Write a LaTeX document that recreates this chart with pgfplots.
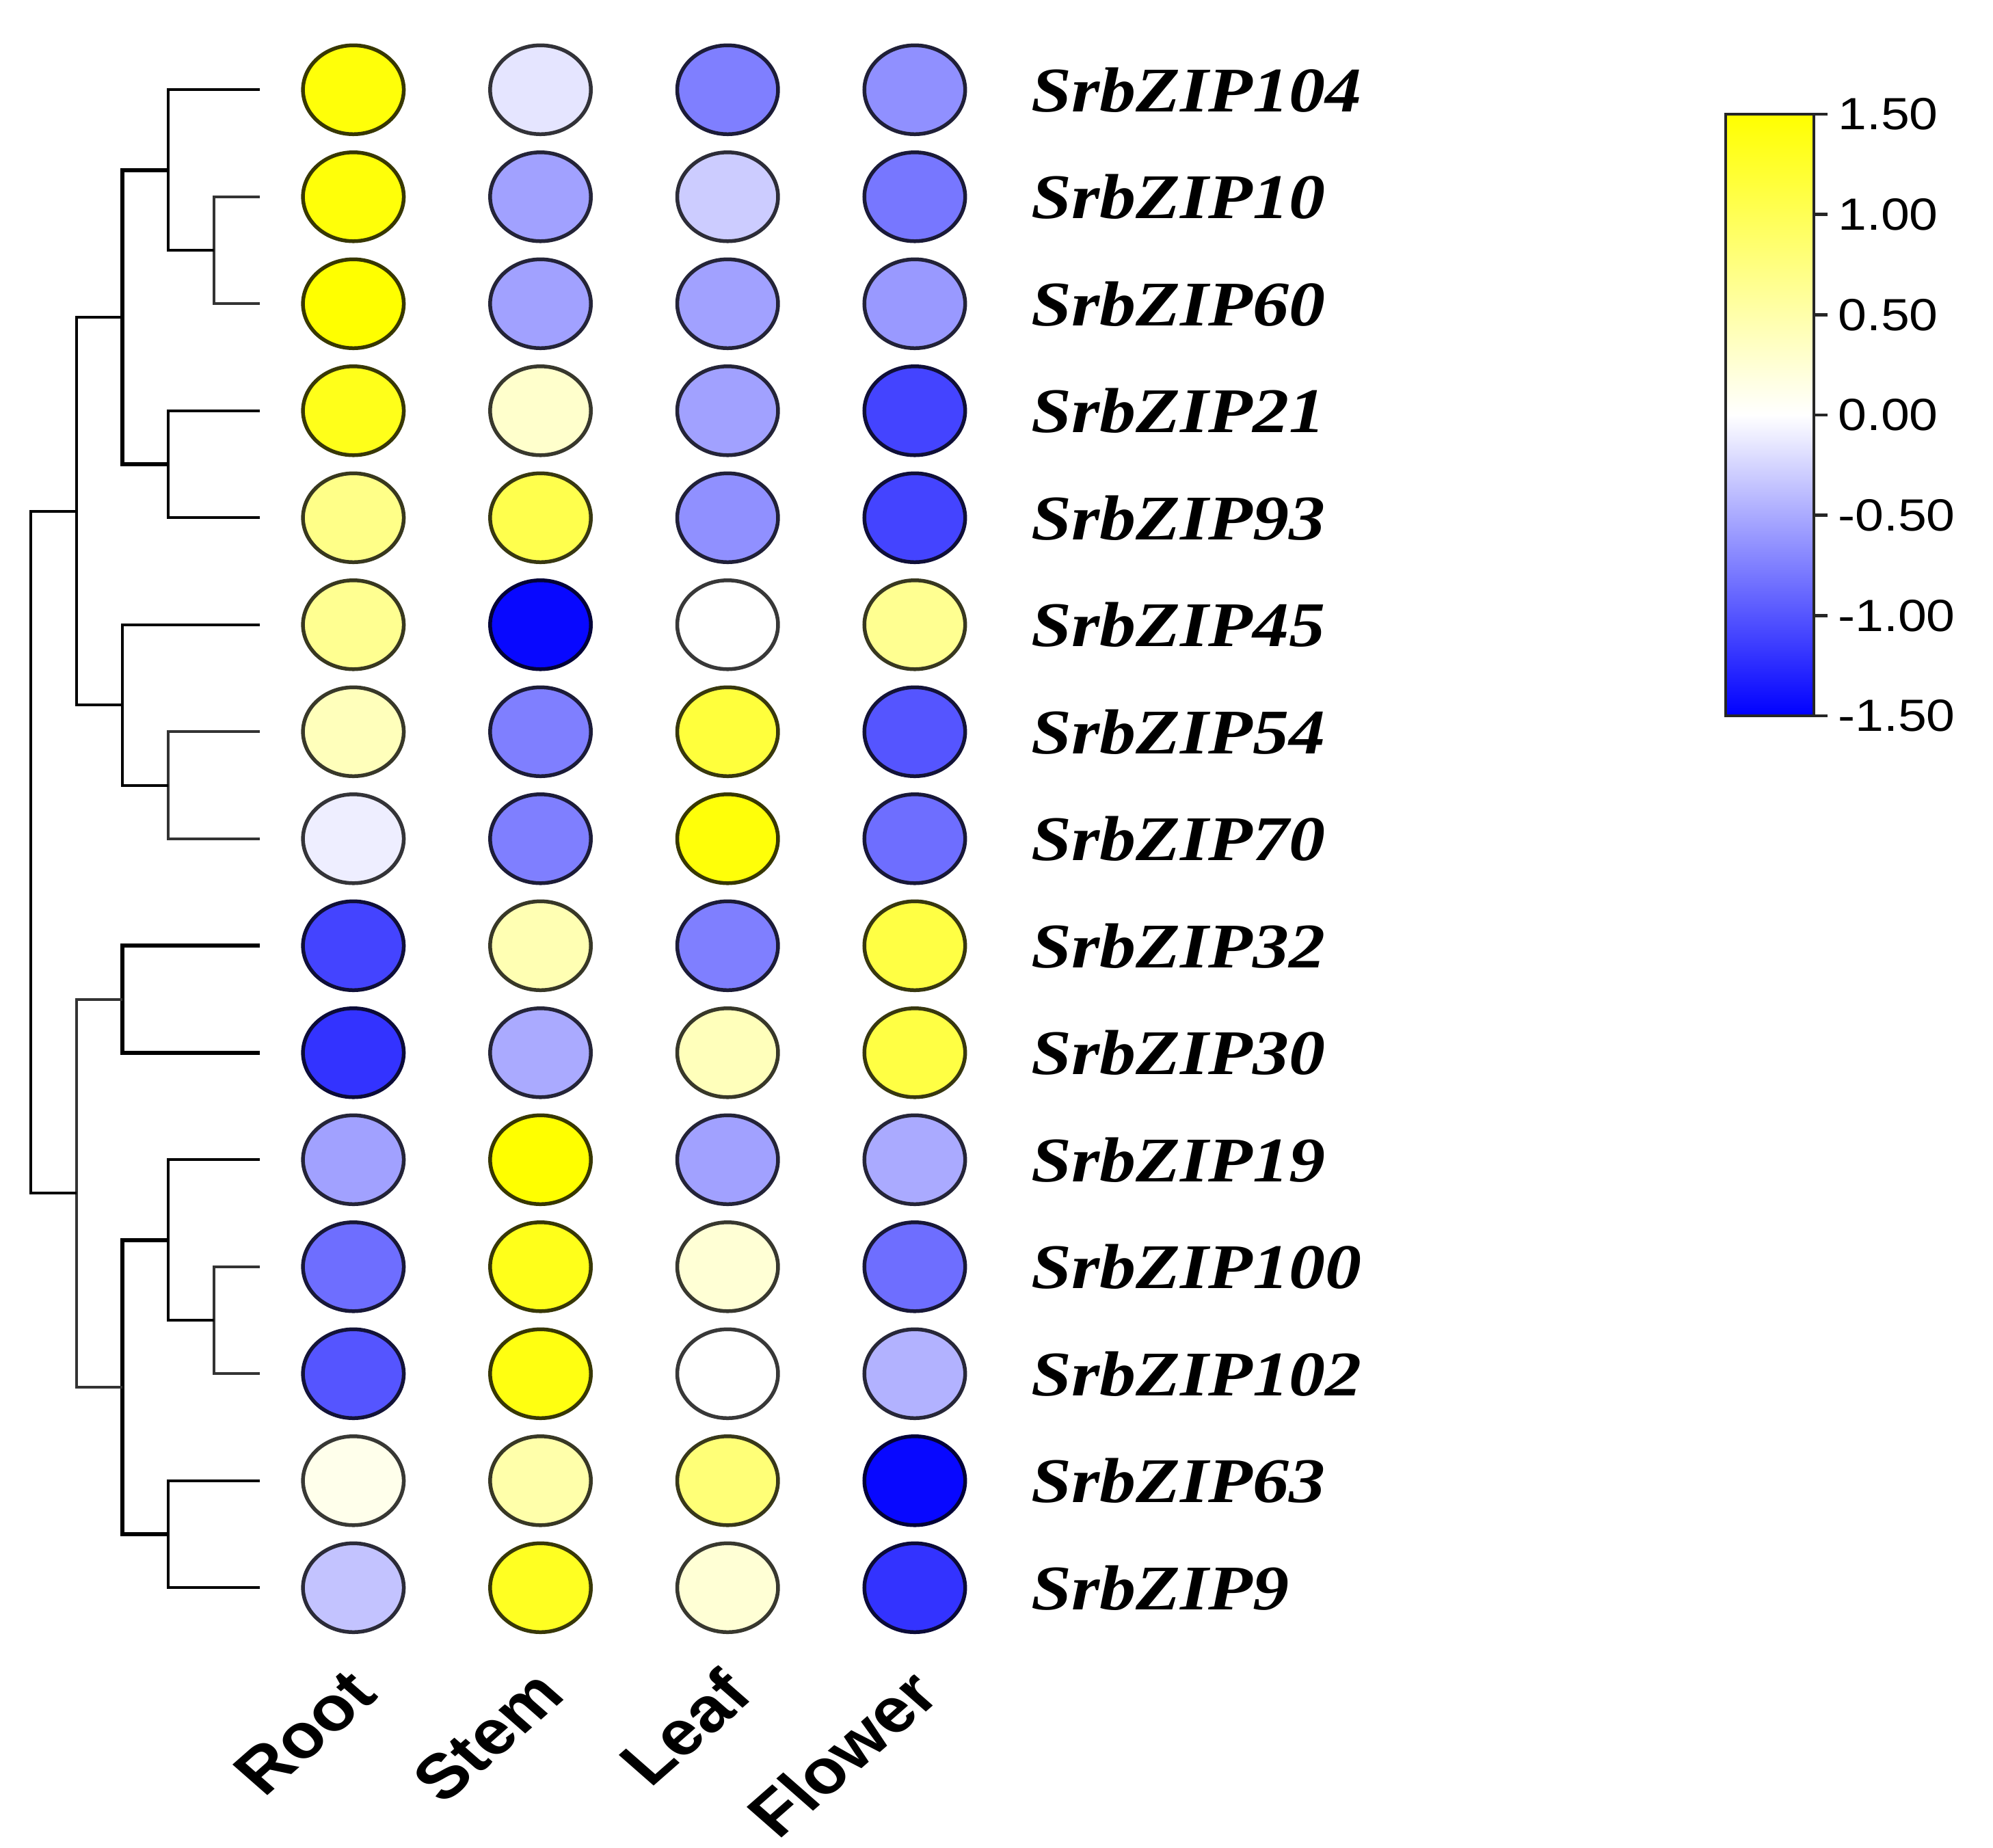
\documentclass[border=0pt]{standalone}
\usepackage{fontspec}
\setmainfont{Liberation Serif}
\setsansfont{Liberation Sans}
\usepackage{pgfplots}
\pgfplotsset{compat=1.18}
\usepackage{pgfplotstable}

\pgfplotsset{colormap={byw}{rgb255=(0,0,255) rgb255=(255,255,255) rgb255=(255,255,0)}}

% expression (z-score) per gene and tissue
\pgfplotstableread{
row Root Stem Leaf Flower
1   1.45 -0.15 -0.75 -0.65
2   1.45 -0.55 -0.30 -0.80
3   1.50 -0.55 -0.55 -0.60
4   1.35  0.30 -0.55 -1.10
5   0.70  1.05 -0.65 -1.10
6   0.65 -1.45  0.00  0.65
7   0.40 -0.75  1.15 -1.00
8  -0.10 -0.75  1.45 -0.85
9  -1.10  0.45 -0.75  1.10
10 -1.20 -0.50  0.40  1.10
11 -0.55  1.50 -0.55 -0.50
12 -0.85  1.35  0.25 -0.85
13 -1.00  1.40  0.00 -0.45
14  0.12  0.50  0.80 -1.45
15 -0.35  1.30  0.25 -1.20
}\expr

\pgfplotsset{
  dot/.style={scatter, only marks, mark=*, mark size=6.5pt, point meta=explicit,
    scatter/use mapped color={draw=mapped color!22!black, fill=mapped color},
    mark options={xscale=1.134, line width=0.55pt}},
}

\begin{document}
\begin{tikzpicture}
\begin{axis}[
    name=hm, at={(0,0)}, anchor=north west,
    scale only axis, width=109.48pt, height=234.75pt,
    xmin=-0.5, xmax=3.5, ymin=0.5, ymax=15.5, y dir=reverse,
    enlargelimits=false, clip=false,
    axis line style={draw=none}, tick style={draw=none},
    xtick={0,1,2,3}, xticklabels={Root,Stem,Leaf,Flower},
    xticklabel style={font=\sffamily\bfseries\fontsize{9.2}{11}\selectfont,
      inner sep=0pt, anchor=east, xshift=1.5pt, yshift=-5.8pt, xscale=1.14, rotate=45},
    ytick={1,...,15},
    yticklabels={SrbZIP104,SrbZIP10,SrbZIP60,SrbZIP21,SrbZIP93,SrbZIP45,SrbZIP54,SrbZIP70,
      SrbZIP32,SrbZIP30,SrbZIP19,SrbZIP100,SrbZIP102,SrbZIP63,SrbZIP9},
    yticklabel pos=right,
    yticklabel style={font=\bfseries\itshape\fontsize{9.3}{11}\selectfont,
      inner sep=0pt, anchor=west, xshift=3.1pt, xscale=1.14},
    colormap name=byw, point meta min=-1.5, point meta max=1.5,
  ]
  \addplot[dot] table[x expr=0, y=row, meta=Root] \expr;
  \addplot[dot] table[x expr=1, y=row, meta=Stem] \expr;
  \addplot[dot] table[x expr=2, y=row, meta=Leaf] \expr;
  \addplot[dot] table[x expr=3, y=row, meta=Flower] \expr;
\end{axis}

% dendrogram: x = merge height, y = row
\begin{axis}[
    at={(hm.north west)}, anchor=north east,
    scale only axis, width=33.5pt, height=234.75pt,
    xmin=0, xmax=5, x dir=reverse, ymin=0.5, ymax=15.5, y dir=reverse,
    hide axis, clip=false,
    cycle list={{black!80, solid, mark=none, line width=0.6pt}},
  ]
  \addplot coordinates {(0,2) (1,2) (1,3) (0,3)};
  \addplot coordinates {(0,1) (2,1) (2,2.5) (1,2.5)};
  \addplot coordinates {(0,4) (2,4) (2,5) (0,5)};
  \addplot coordinates {(2,1.75) (3,1.75) (3,4.5) (2,4.5)};
  \addplot coordinates {(0,7) (2,7) (2,8) (0,8)};
  \addplot coordinates {(0,6) (3,6) (3,7.5) (2,7.5)};
  \addplot coordinates {(3,3.125) (4,3.125) (4,6.75) (3,6.75)};
  \addplot coordinates {(0,9) (3,9) (3,10) (0,10)};
  \addplot coordinates {(0,12) (1,12) (1,13) (0,13)};
  \addplot coordinates {(0,11) (2,11) (2,12.5) (1,12.5)};
  \addplot coordinates {(0,14) (2,14) (2,15) (0,15)};
  \addplot coordinates {(2,11.75) (3,11.75) (3,14.5) (2,14.5)};
  \addplot coordinates {(3,9.5) (4,9.5) (4,13.125) (3,13.125)};
  \addplot coordinates {(4,4.9375) (5,4.9375) (5,11.3125) (4,11.3125)};
\end{axis}

% colour scale
\begin{axis}[
    at={(214.4pt,-11.4pt)}, anchor=north west,
    scale only axis, width=12.9pt, height=88pt,
    xmin=0, xmax=1, ymin=-1.5, ymax=1.5, enlargelimits=false,
    xtick=\empty,
    ytick={-1.5,-1,-0.5,0,0.5,1,1.5},
    yticklabels={-1.50,-1.00,-0.50,0.00,0.50,1.00,1.50},
    ytick pos=right, tick align=outside, major tick length=2pt,
    axis line style={black!85, line width=0.45pt},
    tick style={black!85, line width=0.45pt},
    yticklabel style={font=\sffamily\fontsize{6.6}{8}\selectfont,
      inner sep=0pt, xshift=1.3pt, xscale=1.14},
    colormap name=byw, point meta min=-1.5, point meta max=1.5,
    axis on top,
  ]
  \addplot[surf, shader=interp, point meta=y, mesh/rows=3]
    coordinates {(0,-1.5) (1,-1.5) (0,0) (1,0) (0,1.5) (1,1.5)};
\end{axis}

\path (-38pt,5.3pt) rectangle (253.5pt,-264.9pt);
\end{tikzpicture}
\end{document}
